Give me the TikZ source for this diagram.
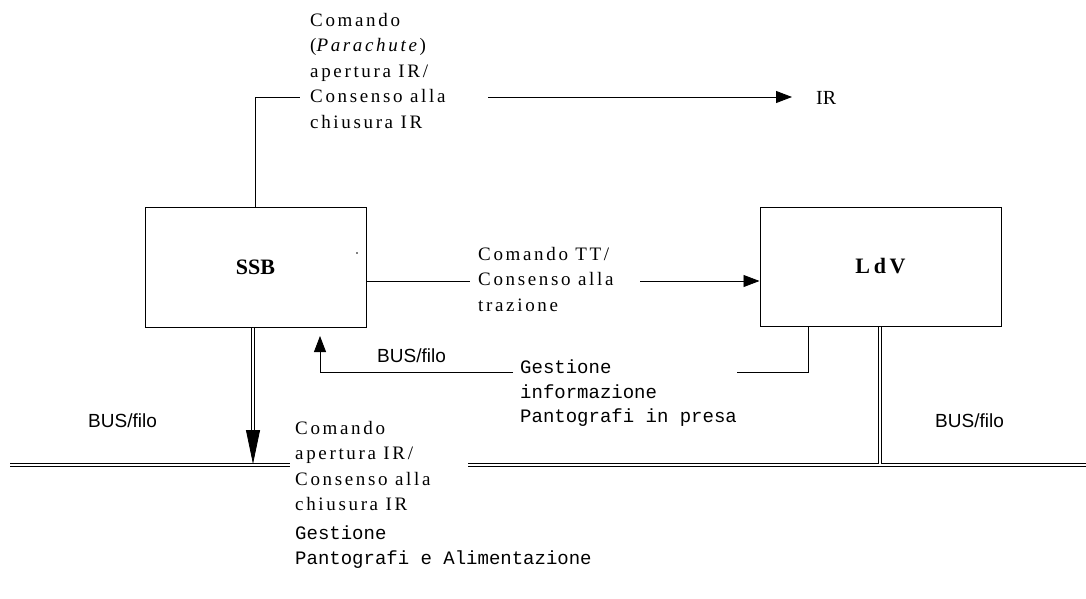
\documentclass[tikz,border=0pt]{standalone}
\usepackage{fontspec}
\setmainfont{Liberation Serif}
\newfontfamily\busfont{Liberation Sans}
\newfontfamily\gesfont{Liberation Mono}
\usetikzlibrary{arrows.meta}

\tikzset{
  blocco/.style={draw, line width=1pt, inner sep=0pt,
    font=\fontsize{22}{26}\selectfont\bfseries},
  testo/.style={align=left, anchor=north west, inner sep=0pt,
    font=\fontsize{19}{25.5}\selectfont\addfontfeature{LetterSpace=14}},
  gestione/.style={align=left, anchor=north west, inner sep=0pt,
    font=\fontsize{19}{24.5}\selectfont\gesfont},
  bus/.style={anchor=base west, inner sep=0pt,
    font=\fontsize{19}{22}\selectfont\busfont},
  filo/.style={line width=0.8pt},
  doppio/.style={line width=0.8pt, double, double distance=2pt},
  freccia/.style={filo, -{Triangle[length=16pt,width=12pt]}}
}

\begin{document}
\begin{tikzpicture}[x=1pt, y=-1pt]
  \useasboundingbox (0,0) rectangle (1086,599);

  % blocchi
  \node[blocco, minimum width=221pt, minimum height=120pt] (ssb) at (255.5,267) {SSB};
  \node[blocco, minimum width=241pt, minimum height=119pt] (ldv) at (880.5,266.5) {L\,d\,V};
  \fill (357,253) circle (0.8pt);

  % comando IR in alto
  \node[testo] (parac) at (310,13) {Comando\\(\textit{Parachute})\\apertura IR/\\Consenso alla\\chiusura IR};
  \node[anchor=base west, inner sep=0pt, font=\fontsize{20}{22}\selectfont] (ir) at (816,105) {IR};
  \coordinate (a1) at (300,97);
  \coordinate (a2) at (488,97);
  \coordinate (a3) at (792,97);
  \draw[filo] (ssb.north) |- (a1);
  \draw[freccia] (a2) -- (a3);

  % comando TT
  \node[testo] (tt) at (478,247) {Comando TT/\\Consenso alla\\trazione};
  \coordinate (b1) at (470,281);
  \coordinate (b2) at (640,281);
  \draw[filo] (ssb.east |- b1) -- (b1);
  \draw[freccia] (b2) -- (ldv.west |- b2);

  % pantografi in presa
  \node[gestione] (panto) at (520,360) {Gestione\\informazione\\Pantografi in presa};
  \node[bus] (bus1) at (377,362) {BUS/filo};
  \coordinate (c1) at (808,372);
  \coordinate (c2) at (737,372);
  \coordinate (c3) at (513,372);
  \coordinate (c4) at (320,372);
  \coordinate (c5) at (320,336);
  \draw[filo] (ldv.south -| c1) -- (c1) -- (c2);
  \draw[filo] (c3) -- (c4);
  \draw[freccia] (c4) -- (c5);

  % linea BUS
  \coordinate (d1) at (10,465);
  \coordinate (d2) at (290,465);
  \coordinate (d3) at (468,465);
  \coordinate (d4) at (1086,465);
  \draw[doppio] (d1) -- (d2);
  \draw[doppio] (d3) -- (d4);
  \node[bus] (bus2) at (88,427) {BUS/filo};
  \node[bus] (bus3) at (935,427) {BUS/filo};

  % collegamenti al BUS
  \coordinate (e1) at (253,440);
  \coordinate (e2) at (253,464);
  \draw[doppio] (ssb.south -| e1) -- (e1);
  \draw[filo, -{Triangle[length=34pt,width=14pt]}] (253,430) -- (e2);
  \coordinate (f1) at (880,464);
  \draw[doppio] (ldv.south -| f1) -- (f1);

  % comando IR in basso
  \node[testo] (basso) at (295,421) {Comando\\apertura IR/\\Consenso alla\\chiusura IR};
  \node[gestione] (alim) at (295,526) {Gestione\\Pantografi e Alimentazione};
\end{tikzpicture}
\end{document}
